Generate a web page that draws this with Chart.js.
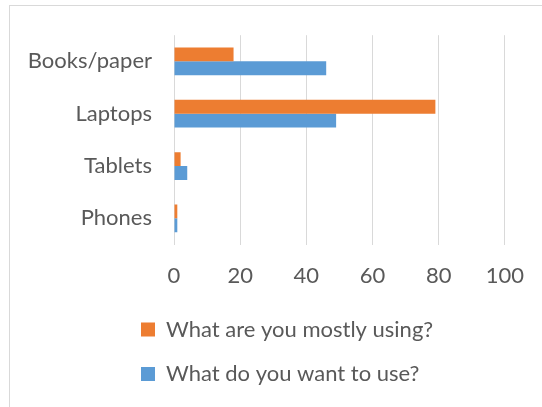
<!DOCTYPE html>
<html>
<head>
<meta charset="utf-8">
<script src="https://cdn.jsdelivr.net/npm/chart.js@4"></script>
<style>
  body { margin: 0; background: #fff; overflow: hidden; }
  #frame { position: absolute; left: 9px; top: 5px; width: 600px; height: 500px; border: 1px solid #d9d9d9; }
  #chart { position: absolute; left: 0; top: 0; }
</style>
</head>
<body>
<div id="frame"></div>
<canvas id="chart" width="542" height="407"></canvas>
<script>
const categories = ["Books/paper", "Laptops", "Tablets", "Phones"];
const mostlyUsing = [18, 79, 2, 1];
const wantToUse = [46, 49, 4, 1];
const xMin = 0;
const xMax = 100;
const xStep = 20;

const textColor = "#595959";
const gridColor = "#d9d9d9";
const font = { family: "Lato", size: 22 };

// excel keeps the legend left aligned in a block, move it over to match
const legendShift = {
  id: "legendShift",
  afterLayout(chart) {
    chart.legend.left += 118.5;
  },
};

const ctx = document.getElementById("chart").getContext("2d");
new Chart(ctx, {
  type: "bar",
  data: {
    labels: categories,
    datasets: [
      {
        label: "What are you mostly using?",
        backgroundColor: "#ed7d31",
        borderWidth: 0,
        data: mostlyUsing,
      },
      {
        label: "What do you want to use?",
        backgroundColor: "#5b9bd5",
        borderWidth: 0,
        data: wantToUse,
      },
    ],
  },
  options: {
    indexAxis: "y",
    responsive: false,
    animation: false,
    categoryPercentage: 0.53,
    barPercentage: 1,
    layout: {
      padding: { left: 0, right: 36, top: 34, bottom: 12 },
    },
    scales: {
      x: {
        min: xMin,
        max: xMax,
        ticks: { stepSize: xStep, color: textColor, font: font, padding: 18 },
        grid: { color: gridColor, lineWidth: 1, drawTicks: false },
        border: { display: false },
        afterFit: (scale) => { scale.height = 51.5; },
      },
      y: {
        ticks: { color: textColor, font: font, padding: 22 },
        grid: { display: false, drawTicks: false },
        border: { display: false },
        afterFit: (scale) => { scale.width = 174; },
      },
    },
    plugins: {
      legend: {
        position: "bottom",
        align: "start",
        labels: {
          color: textColor,
          font: font,
          boxWidth: 14,
          boxHeight: 14,
          padding: 22.5,
        },
      },
      tooltip: { enabled: false },
    },
  },
  plugins: [legendShift],
});
</script>
</body>
</html>
